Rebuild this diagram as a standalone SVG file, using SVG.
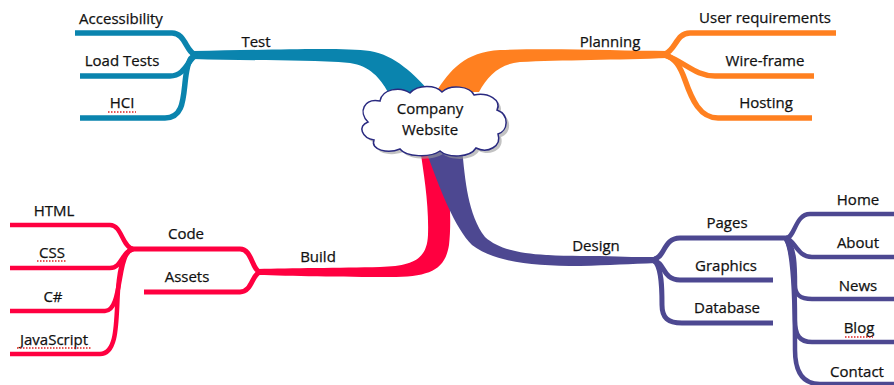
<svg xmlns="http://www.w3.org/2000/svg" width="894" height="385" viewBox="0 0 894 385">
<style>
  text { font-family: "Open Sans", "Noto Sans", "DejaVu Sans", sans-serif; font-size: 15px; fill: #111; text-anchor: middle; stroke: #111; stroke-width: 0.25; }
  .ln { fill: none; stroke-linecap: butt; stroke-linejoin: round; }
  .teal { stroke: #0A84AE; stroke-width: 5.5; }
  .orange { stroke: #FF8020; stroke-width: 5.5; }
  .red { stroke: #FF0040; stroke-width: 5; }
  .purple { stroke: #4D4891; stroke-width: 5; }
  .thin { stroke-width: 4.5; }
  .spell { stroke: #E02020; stroke-width: 1.5; stroke-dasharray: 1.5 1.5; fill: none; }
</style>
<defs>
  <path id="cloud" d="M 368,122 C 358,112 364,98 380,101 C 382,89 400,86 410,93 C 418,84 436,85 442,92 C 450,84 470,86 474,95 C 488,92 502,100 497,110 C 510,115 508,131 498,134 C 502,146 488,154 476,148 C 470,158 448,158 440,151 C 430,158 406,157 400,149 C 388,154 370,150 374,140 C 362,138 357,126 368,122 Z"/>
</defs>
<g id="connectors">
  <path fill="#0A84AE" d="M 193,51 C 270,50 340,47 370,51 C 395,55 415,75 430,92 L 388,92 C 380,78 370,66 350,63 C 300,59 240,61 193,59 Z"/>
  <path fill="#FF8020" d="M 436,92 C 450,70 465,52 500,50 C 560,48 620,51 668,51 L 668,58 C 620,60 560,60 520,62 C 500,64 488,75 479,92 Z"/>
  <path fill="#FF0040" d="M 420,148 L 445,148 C 449,180 452,220 449,245 C 445,270 430,277 390,277 C 340,277 290,276 258,275 L 258,269 C 290,268 340,268 380,267 C 415,266 427,258 428,235 C 429,205 424,175 420,148 Z"/>
  <path fill="#4D4891" d="M 425,148 L 462,148 C 465,180 468,215 485,237 C 505,255 540,256 600,256 C 625,257 640,257 656,257 L 656,263 C 630,264 610,265 580,266 C 530,266 495,262 472,245 C 455,228 440,190 425,148 Z"/>
  <path class="ln teal" d="M 75,33 H 172 C 186,33 186,54 197,55"/>
  <path class="ln teal" d="M 80,76 H 170 C 186,76 188,58 197,55"/>
  <path class="ln teal" d="M 80,118 H 165 C 185,118 183,95 186,75 C 188,62 190,56 197,55"/>
  <path class="ln orange" d="M 836,33 H 690 C 676,33 676,50 665,54"/>
  <path class="ln orange" d="M 814,76 H 715 C 695,76 685,62 665,55"/>
  <path class="ln orange" d="M 812,118 H 718 C 700,118 692,100 685,80 C 680,66 675,58 665,55"/>
  <path class="ln red" d="M 130,249 H 240 C 252,249 252,270 260,272"/>
  <path class="ln red" d="M 144,292 H 240 C 252,292 252,274 260,272"/>
  <path class="ln red thin" d="M 10,225 H 110 C 122,225 122,247 133,249"/>
  <path class="ln red thin" d="M 10,268 H 110 C 122,268 122,251 133,249"/>
  <path class="ln red thin" d="M 10,311 H 105 C 120,311 118,270 126,255 C 128,251 130,250 133,249"/>
  <path class="ln red thin" d="M 10,354 H 100 C 118,354 116,320 118,290 C 120,262 125,252 133,249"/>
  <path class="ln purple" d="M 654,259 C 665,258 663,238 680,238 H 790"/>
  <path class="ln purple" d="M 654,261 C 665,262 662,280 680,280 H 773"/>
  <path class="ln purple" d="M 654,261 C 662,266 662,290 662,305 C 662,318 668,323 682,323 H 773"/>
  <path class="ln purple thin" d="M 786,238 C 795,238 795,214 810,214 H 894"/>
  <path class="ln purple thin" d="M 786,238 C 795,240 797,257 812,257 H 894"/>
  <path class="ln purple thin" d="M 786,239 C 795,245 795,270 795,285 C 795,295 800,299 812,299 H 894"/>
  <path class="ln purple thin" d="M 786,239 C 793,250 795,280 795,320 C 795,336 800,342 812,342 H 894"/>
  <path class="ln purple thin" d="M 786,239 C 793,250 795,300 795,350 C 795,375 805,384 820,384 H 894"/>
</g>
<g id="center">
  <use href="#cloud" transform="translate(3,3)" fill="#9a9a9a" opacity="0.6"/>
  <use href="#cloud" fill="#ffffff" stroke="#2A2A80" stroke-width="1.5"/>
  <text x="430" y="114" font-size="14">Company</text>
  <text x="430" y="135" font-size="14">Website</text>
</g>
<g id="test"><text x="256" y="47">Test</text></g>
<g id="accessibility"><text x="121" y="24">Accessibility</text></g>
<g id="loadtests"><text x="122" y="66">Load Tests</text></g>
<g id="hci"><text x="122" y="108">HCI</text><path class="spell" d="M 108,112 H 136"/></g>
<g id="planning"><text x="610" y="47">Planning</text></g>
<g id="userreq"><text x="765" y="23">User requirements</text></g>
<g id="wireframe"><text x="765" y="66">Wire-frame</text></g>
<g id="hosting"><text x="766" y="108">Hosting</text></g>
<g id="build"><text x="318" y="262">Build</text></g>
<g id="code"><text x="186" y="239">Code</text></g>
<g id="assets"><text x="187" y="282">Assets</text></g>
<g id="html"><text x="54" y="216">HTML</text></g>
<g id="css"><text x="52" y="258">CSS</text><path class="spell" d="M 37,261 H 67"/></g>
<g id="csharp"><text x="53" y="302">C#</text></g>
<g id="javascript"><text x="54" y="345">JavaScript</text><path class="spell" d="M 17,348 H 92"/></g>
<g id="design"><text x="596" y="251">Design</text></g>
<g id="pages"><text x="727" y="228">Pages</text></g>
<g id="graphics"><text x="726" y="271">Graphics</text></g>
<g id="database"><text x="727" y="313">Database</text></g>
<g id="home"><text x="858" y="205">Home</text></g>
<g id="about"><text x="858" y="248">About</text></g>
<g id="news"><text x="858" y="291">News</text></g>
<g id="blog"><text x="859" y="333">Blog</text><path class="spell" d="M 845,337 H 873"/></g>
<g id="contact"><text x="857" y="377">Contact</text></g>
</svg>
